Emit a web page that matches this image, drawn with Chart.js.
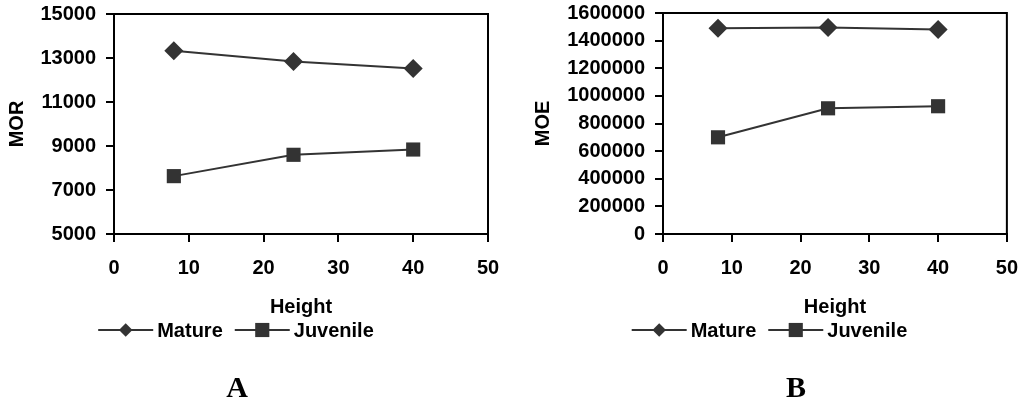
<!DOCTYPE html>
<html>
<head>
<meta charset="utf-8">
<script src="https://cdn.jsdelivr.net/npm/chart.js@4.4.0/dist/chart.umd.min.js"></script>
<style>
  html, body { margin: 0; padding: 0; background: #ffffff; }
  #wrap { position: relative; width: 1032px; height: 400px; overflow: hidden; }
  canvas { position: absolute; top: 0; }
  #cA { left: 0; }
  #cB { left: 516px; }
</style>
</head>
<body>
<div id="wrap">
  <canvas id="cA" width="516" height="400"></canvas>
  <canvas id="cB" width="516" height="400"></canvas>
</div>
<script>
// ---- data ----
const heights = [8, 24, 40];
const seriesNames = ['Mature', 'Juvenile'];
const morMature = [13330, 12840, 12520];
const morJuvenile = [7630, 8600, 8840];
const moeMature = [1490000, 1495000, 1480000];
const moeJuvenile = [700000, 910000, 925000];
const xTicks = [0, 10, 20, 30, 40, 50];
const morTicks = [5000, 7000, 9000, 11000, 13000, 15000];
const moeTicks = [0, 200000, 400000, 600000, 800000, 1000000, 1200000, 1400000, 1600000];
const panelLabels = ['A', 'B'];

const INK = '#333333';
const FONT = 'Liberation Sans, Arial, sans-serif';
Chart.defaults.font.family = FONT;
Chart.defaults.color = '#000';

function pts(vals) { return heights.map((h, i) => ({ x: h, y: vals[i] })); }

function drawMarker(ctx, style, r, x, y) {
  ctx.beginPath();
  const h = r * Math.SQRT1_2;
  if (style === 'rectRot') {
    ctx.moveTo(x, y - h); ctx.lineTo(x + h, y); ctx.lineTo(x, y + h); ctx.lineTo(x - h, y);
  } else {
    ctx.rect(x - h, y - h, 2 * h, 2 * h);
  }
  ctx.closePath();
  ctx.fill();
}

// frame (top and right border of the plot area)
const framePlugin = {
  id: 'frame',
  afterDatasetsDraw(chart) {
    const { ctx, chartArea: a } = chart;
    ctx.save();
    ctx.strokeStyle = '#000';
    ctx.lineWidth = 2;
    ctx.beginPath();
    ctx.moveTo(a.left, a.top);
    ctx.lineTo(a.right, a.top);
    ctx.lineTo(a.right, a.bottom);
    ctx.stroke();
    ctx.restore();
  }
};

// legend with line + marker samples, and the panel letter
const lineLegendPlugin = {
  id: 'lineLegend',
  afterDraw(chart, args, opts) {
    const ctx = chart.ctx;
    ctx.save();
    ctx.font = 'bold 20px ' + FONT;
    ctx.textBaseline = 'middle';
    ctx.textAlign = 'left';
    const lineW = 55, gap = 4, itemGap = 12;
    const items = chart.data.datasets.map(ds => ({ ds, w: lineW + gap + ctx.measureText(ds.label).width }));
    const total = items.reduce((s, it) => s + it.w, 0) + itemGap * (items.length - 1);
    let x = opts.centerX - total / 2;
    const y = opts.y;
    items.forEach(it => {
      ctx.strokeStyle = it.ds.borderColor;
      ctx.lineWidth = 2;
      ctx.beginPath();
      ctx.moveTo(x, y); ctx.lineTo(x + lineW, y);
      ctx.stroke();
      ctx.fillStyle = it.ds.pointBackgroundColor;
      drawMarker(ctx, it.ds.pointStyle, it.ds.pointRadius, x + lineW / 2, y);
      ctx.fillStyle = '#000';
      ctx.fillText(it.ds.label, x + lineW + gap, y + 1);
      x += it.w + itemGap;
    });
    ctx.font = 'bold 30px Liberation Serif, Times New Roman, serif';
    ctx.textAlign = 'center';
    ctx.textBaseline = 'alphabetic';
    ctx.fillText(opts.panel, opts.panelX, opts.panelY);
    ctx.restore();
  }
};

function makeChart(id, cfg) {
  return new Chart(document.getElementById(id), {
    type: 'scatter',
    data: {
      datasets: [
        { label: seriesNames[0], data: pts(cfg.mature), showLine: true,
          borderColor: INK, borderWidth: 2, pointStyle: 'rectRot', pointRadius: 9.5,
          pointBackgroundColor: INK, pointBorderColor: INK, pointBorderWidth: 0 },
        { label: seriesNames[1], data: pts(cfg.juvenile), showLine: true,
          borderColor: INK, borderWidth: 2, pointStyle: 'rect', pointRadius: 10,
          pointBackgroundColor: INK, pointBorderColor: INK, pointBorderWidth: 0 }
      ]
    },
    options: {
      responsive: false,
      animation: false,
      devicePixelRatio: 1,
      layout: { padding: { left: 0, right: cfg.padRight, top: cfg.padTop, bottom: 76 } },
      plugins: {
        legend: { display: false },
        tooltip: { enabled: false },
        lineLegend: { centerX: cfg.legendX, y: 330, panel: cfg.panel, panelX: cfg.panelX, panelY: 397 }
      },
      scales: {
        x: {
          type: 'linear', min: 0, max: 50,
          afterBuildTicks: s => { s.ticks = xTicks.map(v => ({ value: v })); },
          afterFit: s => { s.height = 90; },
          ticks: { font: { size: 20, weight: 'bold' }, color: '#000', padding: 14, maxRotation: 0, autoSkip: false },
          grid: { drawOnChartArea: false, tickLength: 8, color: '#000', lineWidth: 2 },
          border: { color: '#000', width: 2 },
          title: { display: true, text: 'Height', color: '#000', font: { size: 20, weight: 'bold' }, padding: { top: 0, bottom: 5 } }
        },
        y: {
          type: 'linear', min: cfg.yTicks[0], max: cfg.yTicks[cfg.yTicks.length - 1],
          afterBuildTicks: s => { s.ticks = cfg.yTicks.map(v => ({ value: v })); },
          afterFit: s => { s.width = cfg.yWidth; s.paddingTop = 0; s.paddingBottom = 0; },
          ticks: { font: { size: cfg.yFont, weight: 'bold' }, color: '#000', padding: 10, autoSkip: false, callback: v => String(v) },
          grid: { drawOnChartArea: false, tickLength: 8, color: '#000', lineWidth: 2 },
          border: { color: '#000', width: 2 },
          title: { display: true, text: cfg.yTitle, color: '#000', font: { size: 20, weight: 'bold' }, padding: { top: cfg.yTitlePad, bottom: 0 } }
        }
      }
    },
    plugins: [framePlugin, lineLegendPlugin]
  });
}

makeChart('cA', { mature: morMature, juvenile: morJuvenile, yTicks: morTicks, yTitle: 'MOR',
  yWidth: 114, yFont: 20, yTitlePad: 5, padRight: 28, padTop: 14,
  legendX: 236, panel: panelLabels[0], panelX: 237 });
makeChart('cB', { mature: moeMature, juvenile: moeJuvenile, yTicks: moeTicks, yTitle: 'MOE',
  yWidth: 147, yFont: 20, yTitlePad: 15, padRight: 15, padTop: 13,
  legendX: 253.5, panel: panelLabels[1], panelX: 280 });
</script>
</body>
</html>
